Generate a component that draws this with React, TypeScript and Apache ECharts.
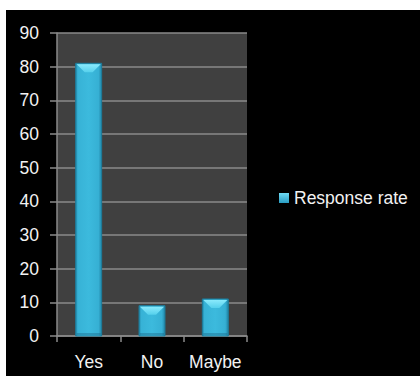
import React, { useEffect, useRef } from "react";
import * as echarts from "echarts";

// Survey answers and their response rates (%)
const categories: string[] = ["Yes", "No", "Maybe"];
const responseRate: number[] = [81, 9, 11];
const seriesName = "Response rate";
const yMin = 0;
const yMax = 90;
const yStep = 10;

const FONT = "'Liberation Sans', Arial, sans-serif";
const TEXT_COLOR = "#f2f2f2";
const LINE_COLOR = "#8a8a8a";
const FONT_SIZE = 17.5;

// Bevelled bar: body with side shading plus a lighter top face.
const renderBar = (params: any, api: any) => {
  const idx = api.value(0);
  const val = api.value(1);
  const top = api.coord([idx, val]);
  const base = api.coord([idx, 0]);
  const bw = api.size([1, 0])[0] * 0.41;
  const x0 = top[0] - bw / 2;
  const x1 = top[0] + bw / 2;
  const y0 = top[1];
  const y1 = base[1];
  const h = y1 - y0;
  const b = Math.min(9, h / 2, bw / 2);
  return {
    type: "group",
    children: [
      {
        type: "rect",
        shape: { x: x0, y: y0, width: bw, height: h },
        style: {
          fill: new echarts.graphic.LinearGradient(0, 0, 1, 0, [
            { offset: 0, color: "#1f86a6" },
            { offset: 0.08, color: "#37b2d6" },
            { offset: 0.5, color: "#3cbadd" },
            { offset: 0.88, color: "#36b0d4" },
            { offset: 1, color: "#2186a8" },
          ]),
          stroke: "#1d7d9c",
          lineWidth: 1,
        },
      },
      {
        type: "polygon",
        shape: {
          points: [
            [x0 + 1, y0 + 1],
            [x1 - 1, y0 + 1],
            [x1 - b, y0 + b],
            [x0 + b, y0 + b],
          ],
        },
        style: {
          fill: new echarts.graphic.LinearGradient(0, 0, 0, 1, [
            { offset: 0, color: "#8aeafc" },
            { offset: 1, color: "#55d0ec" },
          ]),
        },
      },
      {
        type: "rect",
        shape: { x: x0 + 1, y: y1 - 3, width: bw - 2, height: 2 },
        style: { fill: "rgba(20,90,120,0.35)" },
      },
    ],
  };
};

export default function App() {
  const ref = useRef<HTMLDivElement>(null);

  useEffect(() => {
    if (!ref.current) return;
    const chart = echarts.init(ref.current, null, { renderer: "svg" });
    chart.setOption({
      animation: false,
      backgroundColor: "#000000",
      textStyle: { fontFamily: FONT },
      grid: {
        left: 51,
        right: 173,
        top: 23,
        bottom: 40,
        show: true,
        backgroundColor: "#404040",
        borderWidth: 0,
      },
      legend: {
        data: [seriesName],
        orient: "vertical",
        left: 273,
        top: 179,
        padding: 0,
        icon: "rect",
        itemWidth: 10,
        itemHeight: 10,
        itemGap: 6,
        textStyle: {
          color: TEXT_COLOR,
          fontSize: FONT_SIZE,
          fontFamily: FONT,
          lineHeight: 18,
        },
      },
      xAxis: {
        type: "category",
        data: categories,
        boundaryGap: true,
        axisLine: { show: true, lineStyle: { color: LINE_COLOR, width: 1.5 } },
        axisTick: {
          show: true,
          alignWithLabel: false,
          interval: 0,
          length: 6,
          lineStyle: { color: LINE_COLOR, width: 1.5 },
        },
        axisLabel: {
          color: TEXT_COLOR,
          fontSize: FONT_SIZE,
          fontFamily: FONT,
          interval: 0,
          margin: 17,
        },
        splitLine: { show: false },
      },
      yAxis: {
        type: "value",
        min: yMin,
        max: yMax,
        interval: yStep,
        axisLine: { show: true, lineStyle: { color: LINE_COLOR, width: 1.5 } },
        axisTick: {
          show: true,
          length: 7,
          lineStyle: { color: LINE_COLOR, width: 1.5 },
        },
        axisLabel: {
          color: TEXT_COLOR,
          fontSize: FONT_SIZE,
          fontFamily: FONT,
          margin: 18,
        },
        splitLine: { show: true, lineStyle: { color: LINE_COLOR, width: 1.5 } },
      },
      series: [
        {
          name: seriesName,
          type: "custom",
          renderItem: renderBar,
          encode: { x: 0, y: 1 },
          itemStyle: {
            color: new echarts.graphic.LinearGradient(0, 0, 0, 1, [
              { offset: 0, color: "#6fdcf5" },
              { offset: 1, color: "#2a9cc2" },
            ]),
          },
          data: categories.map((_, i) => [i, responseRate[i]]),
        },
      ],
    });
    return () => chart.dispose();
  }, []);

  return (
    <div
      style={{
        position: "fixed",
        left: 0,
        top: 0,
        width: 420,
        height: 378,
        background: "#ffffff",
      }}
    >
      <div
        ref={ref}
        style={{ position: "absolute", left: 6, top: 10, width: 414, height: 366 }}
      />
    </div>
  );
}
